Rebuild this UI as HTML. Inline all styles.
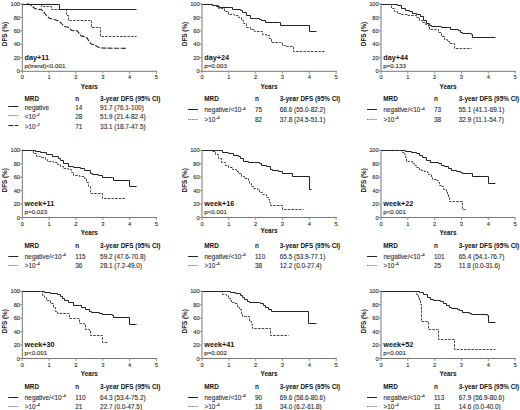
<!DOCTYPE html>
<html><head><meta charset="utf-8"><style>
html,body{margin:0;padding:0;background:#fff;}
svg{display:block;}
text{font-family:"Liberation Sans",sans-serif;}
text{stroke:#2a2a2a;stroke-width:0.1px;}
text[font-weight=bold]{stroke:#111;stroke-width:0px;}
</style></head><body>
<svg width="520" height="410" viewBox="0 0 520 410">
<rect width="520" height="410" fill="#fff"/>
<g>
<path d="M22.3 3.5V71.3H156.95" fill="none" stroke="#777" stroke-width="1"/>
<path d="M19.8 4H22.3M19.8 17.44H22.3M19.8 30.88H22.3M19.8 44.32H22.3M19.8 57.76H22.3M19.8 71.2H22.3M22.3 71.2V73.7M49.13 71.2V73.7M75.96 71.2V73.7M102.79 71.2V73.7M129.62 71.2V73.7M156.45 71.2V73.7" stroke="#777" stroke-width="0.8"/>
<text x="20.1" y="73.3" text-anchor="end" font-size="5.8" fill="#2a2a2a">0</text>
<text x="20.1" y="59.86" text-anchor="end" font-size="5.8" fill="#2a2a2a">20</text>
<text x="20.1" y="46.42" text-anchor="end" font-size="5.8" fill="#2a2a2a">40</text>
<text x="20.1" y="32.98" text-anchor="end" font-size="5.8" fill="#2a2a2a">60</text>
<text x="20.1" y="19.54" text-anchor="end" font-size="5.8" fill="#2a2a2a">80</text>
<text x="20.1" y="6.1" text-anchor="end" font-size="5.8" fill="#2a2a2a">100</text>
<text x="22.3" y="79.2" text-anchor="middle" font-size="5.8" fill="#2a2a2a">0</text>
<text x="49.13" y="79.2" text-anchor="middle" font-size="5.8" fill="#2a2a2a">1</text>
<text x="75.96" y="79.2" text-anchor="middle" font-size="5.8" fill="#2a2a2a">2</text>
<text x="102.79" y="79.2" text-anchor="middle" font-size="5.8" fill="#2a2a2a">3</text>
<text x="129.62" y="79.2" text-anchor="middle" font-size="5.8" fill="#2a2a2a">4</text>
<text x="156.45" y="79.2" text-anchor="middle" font-size="5.8" fill="#2a2a2a">5</text>
<text x="89.4" y="88.7" text-anchor="middle" font-size="6.4" font-weight="bold" fill="#111">Years</text>
<text transform="translate(7.1 34) rotate(-90)" text-anchor="middle" font-size="6.6" textLength="24.3" lengthAdjust="spacingAndGlyphs" font-weight="bold" fill="#111">DFS (%)</text>
<text x="24.6" y="60.1" font-size="7.25" font-weight="bold" fill="#111">day+11</text>
<text x="24.6" y="68.1" font-size="6.2" fill="#1a1a1a">p(trend)&lt;0.001</text>
<polyline points="22.5,4.5 41.5,4.5 41.5,6.5 51.5,6.5 51.5,9.5 65.5,9.5 66.5,9.5 66.5,15.5 68.5,15.5 68.5,20.5 91.5,20.5 91.5,27.5 100.5,27.5 100.5,36.5 136.5,36.5" fill="none" stroke="#444" stroke-width="1" stroke-dasharray="2.5 1.2"/>
<polyline points="27,3.8 30,4.5 32,6.2 34.5,8.2 37.3,9.5 41,9.3 43.5,11.5 46,15 49,18 52,19 56,20 60,21.8 62,24 64,26.5 68.6,27.3 71.7,30.4 77.2,30.8 81.1,35.9 84.2,36.6 87.3,38.2 89.3,42.1 91.25,44 94.4,44.9 97,46.5 100,48 126,48.4" fill="none" stroke="#222" stroke-width="1.1" stroke-dasharray="5 1.5"/>
<polyline points="22.5,4.5 59.5,4.5 59.5,9.5 136.5,9.5" fill="none" stroke="#222" stroke-width="1"/>
<text x="24.5" y="101.2" font-size="6.4" font-weight="bold" fill="#111">MRD</text>
<text x="75.3" y="101.2" font-size="6.4" font-weight="bold" fill="#111">n</text>
<text x="100.1" y="101.2" font-size="6.4" font-weight="bold" fill="#111">3-year DFS (95% CI)</text>
<path d="M8.3 106.5H18.3" stroke="#222" stroke-width="1"/>
<text x="24.8" y="109.8" font-size="6.4" fill="#2a2a2a">negative</text>
<text x="75.3" y="109.8" font-size="6.4" fill="#2a2a2a">14</text>
<text x="100.1" y="109.8" font-size="6.4" fill="#2a2a2a">91.7 (76.1-100)</text>
<path d="M8.3 115.5H18.3" stroke="#555" stroke-width="0.8" stroke-dasharray="1.3 0.8"/>
<text x="24.8" y="119" font-size="6.4" fill="#2a2a2a">&lt;10<tspan font-size="4.4" dx="0.5" dy="-2.7">-2</tspan></text>
<text x="75.3" y="119" font-size="6.4" fill="#2a2a2a">28</text>
<text x="100.1" y="119" font-size="6.4" fill="#2a2a2a">51.9 (21.4-82.4)</text>
<path d="M8.3 125.5H18.3" stroke="#222" stroke-width="1" stroke-dasharray="5 1.5"/>
<text x="24.8" y="128.5" font-size="6.4" fill="#2a2a2a">&gt;10<tspan font-size="4.4" dx="0.5" dy="-2.7">-2</tspan></text>
<text x="75.3" y="128.5" font-size="6.4" fill="#2a2a2a">71</text>
<text x="100.1" y="128.5" font-size="6.4" fill="#2a2a2a">33.1 (18.7-47.5)</text>
</g>
<g>
<path d="M202 3.5V71.3H336.65" fill="none" stroke="#777" stroke-width="1"/>
<path d="M199.5 4H202M199.5 17.44H202M199.5 30.88H202M199.5 44.32H202M199.5 57.76H202M199.5 71.2H202M202 71.2V73.7M228.83 71.2V73.7M255.66 71.2V73.7M282.49 71.2V73.7M309.32 71.2V73.7M336.15 71.2V73.7" stroke="#777" stroke-width="0.8"/>
<text x="199.8" y="73.3" text-anchor="end" font-size="5.8" fill="#2a2a2a">0</text>
<text x="199.8" y="59.86" text-anchor="end" font-size="5.8" fill="#2a2a2a">20</text>
<text x="199.8" y="46.42" text-anchor="end" font-size="5.8" fill="#2a2a2a">40</text>
<text x="199.8" y="32.98" text-anchor="end" font-size="5.8" fill="#2a2a2a">60</text>
<text x="199.8" y="19.54" text-anchor="end" font-size="5.8" fill="#2a2a2a">80</text>
<text x="199.8" y="6.1" text-anchor="end" font-size="5.8" fill="#2a2a2a">100</text>
<text x="202" y="79.2" text-anchor="middle" font-size="5.8" fill="#2a2a2a">0</text>
<text x="228.83" y="79.2" text-anchor="middle" font-size="5.8" fill="#2a2a2a">1</text>
<text x="255.66" y="79.2" text-anchor="middle" font-size="5.8" fill="#2a2a2a">2</text>
<text x="282.49" y="79.2" text-anchor="middle" font-size="5.8" fill="#2a2a2a">3</text>
<text x="309.32" y="79.2" text-anchor="middle" font-size="5.8" fill="#2a2a2a">4</text>
<text x="336.15" y="79.2" text-anchor="middle" font-size="5.8" fill="#2a2a2a">5</text>
<text x="269.1" y="88.7" text-anchor="middle" font-size="6.4" font-weight="bold" fill="#111">Years</text>
<text transform="translate(186.8 34) rotate(-90)" text-anchor="middle" font-size="6.6" textLength="24.3" lengthAdjust="spacingAndGlyphs" font-weight="bold" fill="#111">DFS (%)</text>
<text x="204.3" y="60.1" font-size="7.25" font-weight="bold" fill="#111">day+24</text>
<text x="204.3" y="68.1" font-size="6.2" fill="#1a1a1a">p=0.003</text>
<polyline points="202.5,4.5 206.5,4.5 212.5,4.5 212.5,5.5 218.5,5.5 218.5,8.5 224.5,8.5 224.5,11.5 228.5,11.5 228.5,14.5 234.5,14.5 234.5,15.5 238.5,15.5 238.5,17.5 241.5,17.5 241.5,20.5 243.5,20.5 243.5,23.5 246.5,23.5 246.5,27.5 250.5,27.5 250.5,29.5 254.5,29.5 254.5,31.5 259.5,31.5 262.5,31.5 262.5,34.5 266.5,34.5 266.5,35.5 269.5,35.5 269.5,38.5 271.5,38.5 271.5,42.5 280.5,42.5 282.5,42.5 282.5,45.5 285.5,45.5 285.5,46.5 292.5,46.5 293.5,46.5 293.5,51.5 325.5,51.5" fill="none" stroke="#444" stroke-width="1" stroke-dasharray="2.5 1.2"/>
<polyline points="202.5,4.5 207.5,4.5 212.5,4.5 212.5,5.5 216.5,5.5 216.5,6.5 219.5,6.5 219.5,7.5 230.5,7.5 232.5,7.5 232.5,9.5 240.5,9.5 240.5,10.5 242.5,10.5 242.5,12.5 246.5,12.5 246.5,15.5 250.5,15.5 250.5,18.5 254.5,18.5 259.5,18.5 259.5,19.5 261.5,19.5 261.5,20.5 265.5,20.5 265.5,22.5 279.5,22.5 280.5,22.5 280.5,25.5 309.5,25.5 309.5,31.5 316.5,31.5" fill="none" stroke="#222" stroke-width="1"/>
<text x="204.2" y="101.2" font-size="6.4" font-weight="bold" fill="#111">MRD</text>
<text x="255" y="101.2" font-size="6.4" font-weight="bold" fill="#111">n</text>
<text x="279.8" y="101.2" font-size="6.4" font-weight="bold" fill="#111">3-year DFS (95% CI)</text>
<path d="M188 109.5H198" stroke="#222" stroke-width="1"/>
<text x="204.5" y="112.4" font-size="6.4" fill="#2a2a2a">negative/&lt;10<tspan font-size="4.4" dx="0.5" dy="-2.7">-4</tspan></text>
<text x="255" y="112.4" font-size="6.4" fill="#2a2a2a">75</text>
<text x="279.8" y="112.4" font-size="6.4" fill="#2a2a2a">68.6 (55.0-82.2)</text>
<path d="M188 119.5H198" stroke="#555" stroke-width="0.8" stroke-dasharray="1.3 0.8"/>
<text x="204.5" y="121.8" font-size="6.4" fill="#2a2a2a">&gt;10<tspan font-size="4.4" dx="0.5" dy="-2.7">-4</tspan></text>
<text x="255" y="121.8" font-size="6.4" fill="#2a2a2a">82</text>
<text x="279.8" y="121.8" font-size="6.4" fill="#2a2a2a">37.8 (24.5-51.1)</text>
</g>
<g>
<path d="M381 3.5V71.3H515.65" fill="none" stroke="#777" stroke-width="1"/>
<path d="M378.5 4H381M378.5 17.44H381M378.5 30.88H381M378.5 44.32H381M378.5 57.76H381M378.5 71.2H381M381 71.2V73.7M407.83 71.2V73.7M434.66 71.2V73.7M461.49 71.2V73.7M488.32 71.2V73.7M515.15 71.2V73.7" stroke="#777" stroke-width="0.8"/>
<text x="378.8" y="73.3" text-anchor="end" font-size="5.8" fill="#2a2a2a">0</text>
<text x="378.8" y="59.86" text-anchor="end" font-size="5.8" fill="#2a2a2a">20</text>
<text x="378.8" y="46.42" text-anchor="end" font-size="5.8" fill="#2a2a2a">40</text>
<text x="378.8" y="32.98" text-anchor="end" font-size="5.8" fill="#2a2a2a">60</text>
<text x="378.8" y="19.54" text-anchor="end" font-size="5.8" fill="#2a2a2a">80</text>
<text x="378.8" y="6.1" text-anchor="end" font-size="5.8" fill="#2a2a2a">100</text>
<text x="381" y="79.2" text-anchor="middle" font-size="5.8" fill="#2a2a2a">0</text>
<text x="407.83" y="79.2" text-anchor="middle" font-size="5.8" fill="#2a2a2a">1</text>
<text x="434.66" y="79.2" text-anchor="middle" font-size="5.8" fill="#2a2a2a">2</text>
<text x="461.49" y="79.2" text-anchor="middle" font-size="5.8" fill="#2a2a2a">3</text>
<text x="488.32" y="79.2" text-anchor="middle" font-size="5.8" fill="#2a2a2a">4</text>
<text x="515.15" y="79.2" text-anchor="middle" font-size="5.8" fill="#2a2a2a">5</text>
<text x="448.1" y="88.7" text-anchor="middle" font-size="6.4" font-weight="bold" fill="#111">Years</text>
<text transform="translate(365.8 34) rotate(-90)" text-anchor="middle" font-size="6.6" textLength="24.3" lengthAdjust="spacingAndGlyphs" font-weight="bold" fill="#111">DFS (%)</text>
<text x="383.3" y="60.1" font-size="7.25" font-weight="bold" fill="#111">day+44</text>
<text x="383.3" y="68.1" font-size="6.2" fill="#1a1a1a">p=0.133</text>
<polyline points="381.5,4.5 388.5,4.5 389.5,4.5 391.5,4.5 391.5,8.5 394.5,8.5 394.5,11.5 397.5,11.5 397.5,13.5 401.5,13.5 401.5,14.5 407.5,14.5 407.5,15.5 414.5,15.5 416.5,15.5 416.5,17.5 419.5,17.5 419.5,20.5 422.5,20.5 422.5,22.5 425.5,22.5 425.5,24.5 428.5,24.5 428.5,26.5 429.5,26.5 429.5,29.5 436.5,29.5 438.5,29.5 438.5,32.5 441.5,32.5 441.5,36.5 444.5,36.5 444.5,39.5 447.5,39.5 447.5,41.5 449.5,41.5 449.5,43.5 453.5,43.5 454.5,43.5 454.5,48.5 471.5,48.5" fill="none" stroke="#444" stroke-width="1" stroke-dasharray="2.5 1.2"/>
<polyline points="381.5,4.5 389.5,4.5 393.5,4.5 397.5,4.5 397.5,5.5 401.5,5.5 401.5,8.5 405.5,8.5 405.5,10.5 409.5,10.5 409.5,11.5 412.5,11.5 412.5,13.5 416.5,13.5 416.5,14.5 420.5,14.5 420.5,16.5 423.5,16.5 423.5,20.5 426.5,20.5 426.5,23.5 429.5,23.5 429.5,25.5 431.5,25.5 431.5,26.5 440.5,26.5 441.5,26.5 441.5,27.5 448.5,27.5 450.5,27.5 450.5,29.5 458.5,29.5 458.5,30.5 460.5,30.5 460.5,32.5 462.5,32.5 462.5,33.5 470.5,33.5 471.5,33.5 471.5,34.5 472.5,34.5 472.5,37.5 495.5,37.5" fill="none" stroke="#222" stroke-width="1"/>
<text x="383.2" y="101.2" font-size="6.4" font-weight="bold" fill="#111">MRD</text>
<text x="434" y="101.2" font-size="6.4" font-weight="bold" fill="#111">n</text>
<text x="458.8" y="101.2" font-size="6.4" font-weight="bold" fill="#111">3-year DFS (95% CI)</text>
<path d="M367 109.5H377" stroke="#222" stroke-width="1"/>
<text x="383.5" y="112.4" font-size="6.4" fill="#2a2a2a">negative/&lt;10<tspan font-size="4.4" dx="0.5" dy="-2.7">-4</tspan></text>
<text x="434" y="112.4" font-size="6.4" fill="#2a2a2a">73</text>
<text x="458.8" y="112.4" font-size="6.4" fill="#2a2a2a">55.1 (41.1-69.1)</text>
<path d="M367 119.5H377" stroke="#555" stroke-width="0.8" stroke-dasharray="1.3 0.8"/>
<text x="383.5" y="121.8" font-size="6.4" fill="#2a2a2a">&gt;10<tspan font-size="4.4" dx="0.5" dy="-2.7">-4</tspan></text>
<text x="434" y="121.8" font-size="6.4" fill="#2a2a2a">38</text>
<text x="458.8" y="121.8" font-size="6.4" fill="#2a2a2a">32.9 (11.1-54.7)</text>
</g>
<g>
<path d="M22.3 149.8V217.5H156.95" fill="none" stroke="#777" stroke-width="1"/>
<path d="M19.8 150.3H22.3M19.8 163.74H22.3M19.8 177.18H22.3M19.8 190.62H22.3M19.8 204.06H22.3M19.8 217.5H22.3M22.3 217.5V220M49.13 217.5V220M75.96 217.5V220M102.79 217.5V220M129.62 217.5V220M156.45 217.5V220" stroke="#777" stroke-width="0.8"/>
<text x="20.1" y="219.6" text-anchor="end" font-size="5.8" fill="#2a2a2a">0</text>
<text x="20.1" y="206.16" text-anchor="end" font-size="5.8" fill="#2a2a2a">20</text>
<text x="20.1" y="192.72" text-anchor="end" font-size="5.8" fill="#2a2a2a">40</text>
<text x="20.1" y="179.28" text-anchor="end" font-size="5.8" fill="#2a2a2a">60</text>
<text x="20.1" y="165.84" text-anchor="end" font-size="5.8" fill="#2a2a2a">80</text>
<text x="20.1" y="152.4" text-anchor="end" font-size="5.8" fill="#2a2a2a">100</text>
<text x="22.3" y="225.5" text-anchor="middle" font-size="5.8" fill="#2a2a2a">0</text>
<text x="49.13" y="225.5" text-anchor="middle" font-size="5.8" fill="#2a2a2a">1</text>
<text x="75.96" y="225.5" text-anchor="middle" font-size="5.8" fill="#2a2a2a">2</text>
<text x="102.79" y="225.5" text-anchor="middle" font-size="5.8" fill="#2a2a2a">3</text>
<text x="129.62" y="225.5" text-anchor="middle" font-size="5.8" fill="#2a2a2a">4</text>
<text x="156.45" y="225.5" text-anchor="middle" font-size="5.8" fill="#2a2a2a">5</text>
<text x="89.4" y="235" text-anchor="middle" font-size="6.4" font-weight="bold" fill="#111">Years</text>
<text transform="translate(7.1 180.3) rotate(-90)" text-anchor="middle" font-size="6.6" textLength="24.3" lengthAdjust="spacingAndGlyphs" font-weight="bold" fill="#111">DFS (%)</text>
<text x="24.6" y="206.4" font-size="7.25" font-weight="bold" fill="#111">week+11</text>
<text x="24.6" y="214.4" font-size="6.2" fill="#1a1a1a">p=0.023</text>
<polyline points="22.5,150.5 32.5,150.5 33.5,150.5 33.5,153.5 36.5,153.5 36.5,156.5 40.5,156.5 40.5,157.5 45.5,157.5 45.5,159.5 47.5,159.5 47.5,161.5 53.5,161.5 53.5,162.5 57.5,162.5 57.5,164.5 60.5,164.5 60.5,166.5 63.5,166.5 63.5,168.5 68.5,168.5 68.5,169.5 71.5,169.5 71.5,172.5 73.5,172.5 73.5,175.5 79.5,175.5 79.5,176.5 84.5,176.5 84.5,178.5 86.5,178.5 86.5,182.5 88.5,182.5 88.5,186.5 90.5,186.5 90.5,190.5 90.5,193.5 102.5,193.5 102.5,198.5 126.5,198.5" fill="none" stroke="#444" stroke-width="1" stroke-dasharray="2.5 1.2"/>
<polyline points="22.5,150.5 32.5,150.5 35.5,150.5 35.5,151.5 40.5,151.5 40.5,152.5 46.5,152.5 46.5,154.5 52.5,154.5 52.5,156.5 58.5,156.5 58.5,158.5 60.5,158.5 60.5,160.5 63.5,160.5 63.5,163.5 68.5,163.5 68.5,166.5 73.5,166.5 73.5,167.5 80.5,167.5 80.5,168.5 84.5,168.5 84.5,170.5 90.5,170.5 90.5,173.5 92.5,173.5 92.5,174.5 98.5,174.5 98.5,175.5 102.5,175.5 102.5,177.5 112.5,177.5 113.5,177.5 113.5,180.5 129.5,180.5 129.5,186.5 136.5,186.5" fill="none" stroke="#222" stroke-width="1"/>
<text x="24.5" y="247.5" font-size="6.4" font-weight="bold" fill="#111">MRD</text>
<text x="75.3" y="247.5" font-size="6.4" font-weight="bold" fill="#111">n</text>
<text x="100.1" y="247.5" font-size="6.4" font-weight="bold" fill="#111">3-year DFS (95% CI)</text>
<path d="M8.3 256.5H18.3" stroke="#222" stroke-width="1"/>
<text x="24.8" y="258.7" font-size="6.4" fill="#2a2a2a">negative/&lt;10<tspan font-size="4.4" dx="0.5" dy="-2.7">-4</tspan></text>
<text x="75.3" y="258.7" font-size="6.4" fill="#2a2a2a">115</text>
<text x="100.1" y="258.7" font-size="6.4" fill="#2a2a2a">59.2 (47.6-70.8)</text>
<path d="M8.3 265.5H18.3" stroke="#555" stroke-width="0.8" stroke-dasharray="1.3 0.8"/>
<text x="24.8" y="268.1" font-size="6.4" fill="#2a2a2a">&gt;10<tspan font-size="4.4" dx="0.5" dy="-2.7">-4</tspan></text>
<text x="75.3" y="268.1" font-size="6.4" fill="#2a2a2a">36</text>
<text x="100.1" y="268.1" font-size="6.4" fill="#2a2a2a">28.1 (7.2-49.0)</text>
</g>
<g>
<path d="M202 149.8V217.5H336.65" fill="none" stroke="#777" stroke-width="1"/>
<path d="M199.5 150.3H202M199.5 163.74H202M199.5 177.18H202M199.5 190.62H202M199.5 204.06H202M199.5 217.5H202M202 217.5V220M228.83 217.5V220M255.66 217.5V220M282.49 217.5V220M309.32 217.5V220M336.15 217.5V220" stroke="#777" stroke-width="0.8"/>
<text x="199.8" y="219.6" text-anchor="end" font-size="5.8" fill="#2a2a2a">0</text>
<text x="199.8" y="206.16" text-anchor="end" font-size="5.8" fill="#2a2a2a">20</text>
<text x="199.8" y="192.72" text-anchor="end" font-size="5.8" fill="#2a2a2a">40</text>
<text x="199.8" y="179.28" text-anchor="end" font-size="5.8" fill="#2a2a2a">60</text>
<text x="199.8" y="165.84" text-anchor="end" font-size="5.8" fill="#2a2a2a">80</text>
<text x="199.8" y="152.4" text-anchor="end" font-size="5.8" fill="#2a2a2a">100</text>
<text x="202" y="225.5" text-anchor="middle" font-size="5.8" fill="#2a2a2a">0</text>
<text x="228.83" y="225.5" text-anchor="middle" font-size="5.8" fill="#2a2a2a">1</text>
<text x="255.66" y="225.5" text-anchor="middle" font-size="5.8" fill="#2a2a2a">2</text>
<text x="282.49" y="225.5" text-anchor="middle" font-size="5.8" fill="#2a2a2a">3</text>
<text x="309.32" y="225.5" text-anchor="middle" font-size="5.8" fill="#2a2a2a">4</text>
<text x="336.15" y="225.5" text-anchor="middle" font-size="5.8" fill="#2a2a2a">5</text>
<text x="269.1" y="232.7" text-anchor="middle" font-size="6.4" font-weight="bold" fill="#111">Years</text>
<text transform="translate(186.8 180.3) rotate(-90)" text-anchor="middle" font-size="6.6" textLength="24.3" lengthAdjust="spacingAndGlyphs" font-weight="bold" fill="#111">DFS (%)</text>
<text x="204.3" y="206.4" font-size="7.25" font-weight="bold" fill="#111">week+16</text>
<text x="204.3" y="214.4" font-size="6.2" fill="#1a1a1a">p&lt;0.001</text>
<polyline points="202.5,150.5 208.5,150.5 212.5,150.5 212.5,151.5 215.5,151.5 215.5,154.5 218.5,154.5 218.5,158.5 221.5,158.5 221.5,162.5 225.5,162.5 225.5,165.5 228.5,165.5 228.5,167.5 232.5,167.5 232.5,169.5 236.5,169.5 236.5,171.5 238.5,171.5 238.5,173.5 241.5,173.5 241.5,176.5 244.5,176.5 244.5,178.5 248.5,178.5 248.5,180.5 249.5,180.5 249.5,183.5 251.5,183.5 251.5,186.5 253.5,186.5 253.5,188.5 257.5,188.5 257.5,189.5 259.5,189.5 259.5,192.5 262.5,192.5 262.5,194.5 264.5,194.5 266.5,194.5 266.5,197.5 268.5,197.5 268.5,199.5 269.5,199.5 269.5,202.5 270.5,202.5 270.5,205.5 282.5,205.5 282.5,209.5 303.5,209.5" fill="none" stroke="#444" stroke-width="1" stroke-dasharray="2.5 1.2"/>
<polyline points="202.5,150.5 214.5,150.5 218.5,150.5 222.5,150.5 222.5,152.5 228.5,152.5 228.5,153.5 233.5,153.5 233.5,155.5 238.5,155.5 238.5,156.5 240.5,156.5 240.5,158.5 243.5,158.5 243.5,161.5 248.5,161.5 248.5,162.5 254.5,162.5 259.5,162.5 259.5,163.5 261.5,163.5 261.5,165.5 266.5,165.5 266.5,166.5 270.5,166.5 270.5,169.5 272.5,169.5 272.5,170.5 278.5,170.5 278.5,171.5 282.5,171.5 282.5,173.5 292.5,173.5 292.5,176.5 309.5,176.5 309.5,189.5 311.5,189.5" fill="none" stroke="#222" stroke-width="1"/>
<text x="204.2" y="247.5" font-size="6.4" font-weight="bold" fill="#111">MRD</text>
<text x="255" y="247.5" font-size="6.4" font-weight="bold" fill="#111">n</text>
<text x="279.8" y="247.5" font-size="6.4" font-weight="bold" fill="#111">3-year DFS (95% CI)</text>
<path d="M188 256.5H198" stroke="#222" stroke-width="1"/>
<text x="204.5" y="258.7" font-size="6.4" fill="#2a2a2a">negative/&lt;10<tspan font-size="4.4" dx="0.5" dy="-2.7">-4</tspan></text>
<text x="255" y="258.7" font-size="6.4" fill="#2a2a2a">110</text>
<text x="279.8" y="258.7" font-size="6.4" fill="#2a2a2a">65.5 (53.9-77.1)</text>
<path d="M188 265.5H198" stroke="#555" stroke-width="0.8" stroke-dasharray="1.3 0.8"/>
<text x="204.5" y="268.1" font-size="6.4" fill="#2a2a2a">&gt;10<tspan font-size="4.4" dx="0.5" dy="-2.7">-4</tspan></text>
<text x="255" y="268.1" font-size="6.4" fill="#2a2a2a">38</text>
<text x="279.8" y="268.1" font-size="6.4" fill="#2a2a2a">12.2 (0.0-27.4)</text>
</g>
<g>
<path d="M381 149.8V217.5H515.65" fill="none" stroke="#777" stroke-width="1"/>
<path d="M378.5 150.3H381M378.5 163.74H381M378.5 177.18H381M378.5 190.62H381M378.5 204.06H381M378.5 217.5H381M381 217.5V220M407.83 217.5V220M434.66 217.5V220M461.49 217.5V220M488.32 217.5V220M515.15 217.5V220" stroke="#777" stroke-width="0.8"/>
<text x="378.8" y="219.6" text-anchor="end" font-size="5.8" fill="#2a2a2a">0</text>
<text x="378.8" y="206.16" text-anchor="end" font-size="5.8" fill="#2a2a2a">20</text>
<text x="378.8" y="192.72" text-anchor="end" font-size="5.8" fill="#2a2a2a">40</text>
<text x="378.8" y="179.28" text-anchor="end" font-size="5.8" fill="#2a2a2a">60</text>
<text x="378.8" y="165.84" text-anchor="end" font-size="5.8" fill="#2a2a2a">80</text>
<text x="378.8" y="152.4" text-anchor="end" font-size="5.8" fill="#2a2a2a">100</text>
<text x="381" y="225.5" text-anchor="middle" font-size="5.8" fill="#2a2a2a">0</text>
<text x="407.83" y="225.5" text-anchor="middle" font-size="5.8" fill="#2a2a2a">1</text>
<text x="434.66" y="225.5" text-anchor="middle" font-size="5.8" fill="#2a2a2a">2</text>
<text x="461.49" y="225.5" text-anchor="middle" font-size="5.8" fill="#2a2a2a">3</text>
<text x="488.32" y="225.5" text-anchor="middle" font-size="5.8" fill="#2a2a2a">4</text>
<text x="515.15" y="225.5" text-anchor="middle" font-size="5.8" fill="#2a2a2a">5</text>
<text x="448.1" y="235" text-anchor="middle" font-size="6.4" font-weight="bold" fill="#111">Years</text>
<text transform="translate(365.8 180.3) rotate(-90)" text-anchor="middle" font-size="6.6" textLength="24.3" lengthAdjust="spacingAndGlyphs" font-weight="bold" fill="#111">DFS (%)</text>
<text x="383.3" y="206.4" font-size="7.25" font-weight="bold" fill="#111">week+22</text>
<text x="383.3" y="214.4" font-size="6.2" fill="#1a1a1a">p&lt;0.001</text>
<polyline points="381.5,150.5 399.5,150.5 402.5,150.5 402.5,152.5 404.5,152.5 404.5,154.5 405.5,154.5 405.5,157.5 406.5,157.5 406.5,161.5 410.5,161.5 412.5,161.5 412.5,163.5 414.5,163.5 414.5,165.5 416.5,165.5 416.5,167.5 419.5,167.5 419.5,169.5 421.5,169.5 421.5,170.5 424.5,170.5 424.5,171.5 427.5,171.5 427.5,172.5 428.5,172.5 428.5,174.5 431.5,174.5 431.5,177.5 432.5,177.5 432.5,179.5 436.5,179.5 436.5,180.5 438.5,180.5 438.5,182.5 439.5,182.5 439.5,185.5 441.5,185.5 441.5,186.5 443.5,186.5 443.5,189.5 446.5,189.5 446.5,191.5 447.5,191.5 447.5,194.5 448.5,194.5 448.5,197.5 449.5,197.5 449.5,201.5 462.5,201.5 462.5,209.5 465.5,209.5" fill="none" stroke="#444" stroke-width="1" stroke-dasharray="2.5 1.2"/>
<polyline points="381.5,150.5 395.5,150.5 399.5,150.5 405.5,150.5 405.5,151.5 411.5,151.5 411.5,152.5 416.5,152.5 416.5,153.5 419.5,153.5 419.5,155.5 422.5,155.5 422.5,157.5 426.5,157.5 426.5,160.5 430.5,160.5 430.5,162.5 438.5,162.5 438.5,163.5 441.5,163.5 441.5,165.5 444.5,165.5 444.5,166.5 448.5,166.5 448.5,168.5 451.5,168.5 451.5,170.5 456.5,170.5 456.5,171.5 460.5,171.5 460.5,172.5 462.5,172.5 462.5,173.5 470.5,173.5 472.5,173.5 472.5,176.5 488.5,176.5 488.5,183.5 495.5,183.5" fill="none" stroke="#222" stroke-width="1"/>
<text x="383.2" y="247.5" font-size="6.4" font-weight="bold" fill="#111">MRD</text>
<text x="434" y="247.5" font-size="6.4" font-weight="bold" fill="#111">n</text>
<text x="458.8" y="247.5" font-size="6.4" font-weight="bold" fill="#111">3-year DFS (95% CI)</text>
<path d="M367 256.5H377" stroke="#222" stroke-width="1"/>
<text x="383.5" y="258.7" font-size="6.4" fill="#2a2a2a">negative/&lt;10<tspan font-size="4.4" dx="0.5" dy="-2.7">-4</tspan></text>
<text x="434" y="258.7" font-size="6.4" fill="#2a2a2a">101</text>
<text x="458.8" y="258.7" font-size="6.4" fill="#2a2a2a">65.4 (54.1-76.7)</text>
<path d="M367 265.5H377" stroke="#555" stroke-width="0.8" stroke-dasharray="1.3 0.8"/>
<text x="383.5" y="268.1" font-size="6.4" fill="#2a2a2a">&gt;10<tspan font-size="4.4" dx="0.5" dy="-2.7">-4</tspan></text>
<text x="434" y="268.1" font-size="6.4" fill="#2a2a2a">25</text>
<text x="458.8" y="268.1" font-size="6.4" fill="#2a2a2a">11.8 (0.0-31.6)</text>
</g>
<g>
<path d="M22.3 290.8V358.5H156.95" fill="none" stroke="#777" stroke-width="1"/>
<path d="M19.8 291.3H22.3M19.8 304.74H22.3M19.8 318.18H22.3M19.8 331.62H22.3M19.8 345.06H22.3M19.8 358.5H22.3M22.3 358.5V361M49.13 358.5V361M75.96 358.5V361M102.79 358.5V361M129.62 358.5V361M156.45 358.5V361" stroke="#777" stroke-width="0.8"/>
<text x="20.1" y="360.6" text-anchor="end" font-size="5.8" fill="#2a2a2a">0</text>
<text x="20.1" y="347.16" text-anchor="end" font-size="5.8" fill="#2a2a2a">20</text>
<text x="20.1" y="333.72" text-anchor="end" font-size="5.8" fill="#2a2a2a">40</text>
<text x="20.1" y="320.28" text-anchor="end" font-size="5.8" fill="#2a2a2a">60</text>
<text x="20.1" y="306.84" text-anchor="end" font-size="5.8" fill="#2a2a2a">80</text>
<text x="20.1" y="293.4" text-anchor="end" font-size="5.8" fill="#2a2a2a">100</text>
<text x="22.3" y="366.5" text-anchor="middle" font-size="5.8" fill="#2a2a2a">0</text>
<text x="49.13" y="366.5" text-anchor="middle" font-size="5.8" fill="#2a2a2a">1</text>
<text x="75.96" y="366.5" text-anchor="middle" font-size="5.8" fill="#2a2a2a">2</text>
<text x="102.79" y="366.5" text-anchor="middle" font-size="5.8" fill="#2a2a2a">3</text>
<text x="129.62" y="366.5" text-anchor="middle" font-size="5.8" fill="#2a2a2a">4</text>
<text x="156.45" y="366.5" text-anchor="middle" font-size="5.8" fill="#2a2a2a">5</text>
<text x="89.4" y="376" text-anchor="middle" font-size="6.4" font-weight="bold" fill="#111">Years</text>
<text transform="translate(7.1 321.3) rotate(-90)" text-anchor="middle" font-size="6.6" textLength="24.3" lengthAdjust="spacingAndGlyphs" font-weight="bold" fill="#111">DFS (%)</text>
<text x="24.6" y="347.4" font-size="7.25" font-weight="bold" fill="#111">week+30</text>
<text x="24.6" y="355.4" font-size="6.2" fill="#1a1a1a">p&lt;0.001</text>
<polyline points="22.5,291.5 40.5,291.5 42.5,291.5 42.5,295.5 44.5,295.5 44.5,297.5 46.5,297.5 46.5,300.5 50.5,300.5 50.5,303.5 53.5,303.5 53.5,307.5 55.5,307.5 55.5,311.5 57.5,311.5 57.5,313.5 68.5,313.5 69.5,313.5 69.5,318.5 78.5,318.5 79.5,318.5 79.5,323.5 84.5,323.5 84.5,324.5 85.5,324.5 85.5,329.5 89.5,329.5 89.5,330.5 90.5,330.5 90.5,335.5 102.5,335.5 102.5,342.5 108.5,342.5" fill="none" stroke="#444" stroke-width="1" stroke-dasharray="2.5 1.2"/>
<polyline points="22.5,291.5 40.5,291.5 44.5,291.5 44.5,292.5 50.5,292.5 50.5,293.5 57.5,293.5 57.5,294.5 60.5,294.5 60.5,296.5 62.5,296.5 62.5,298.5 64.5,298.5 64.5,300.5 68.5,300.5 68.5,302.5 73.5,302.5 73.5,305.5 79.5,305.5 81.5,305.5 81.5,307.5 85.5,307.5 85.5,309.5 89.5,309.5 89.5,311.5 91.5,311.5 91.5,312.5 99.5,312.5 99.5,313.5 102.5,313.5 102.5,314.5 112.5,314.5 112.5,315.5 113.5,315.5 113.5,317.5 129.5,317.5 129.5,324.5 136.5,324.5" fill="none" stroke="#222" stroke-width="1"/>
<text x="24.5" y="388.5" font-size="6.4" font-weight="bold" fill="#111">MRD</text>
<text x="75.3" y="388.5" font-size="6.4" font-weight="bold" fill="#111">n</text>
<text x="100.1" y="388.5" font-size="6.4" font-weight="bold" fill="#111">3-year DFS (95% CI)</text>
<path d="M8.3 397.5H18.3" stroke="#222" stroke-width="1"/>
<text x="24.8" y="399.7" font-size="6.4" fill="#2a2a2a">negative/&lt;10<tspan font-size="4.4" dx="0.5" dy="-2.7">-4</tspan></text>
<text x="75.3" y="399.7" font-size="6.4" fill="#2a2a2a">110</text>
<text x="100.1" y="399.7" font-size="6.4" fill="#2a2a2a">64.3 (53.4-75.2)</text>
<path d="M8.3 406.5H18.3" stroke="#555" stroke-width="0.8" stroke-dasharray="1.3 0.8"/>
<text x="24.8" y="409.1" font-size="6.4" fill="#2a2a2a">&gt;10<tspan font-size="4.4" dx="0.5" dy="-2.7">-4</tspan></text>
<text x="75.3" y="409.1" font-size="6.4" fill="#2a2a2a">21</text>
<text x="100.1" y="409.1" font-size="6.4" fill="#2a2a2a">22.7 (0.0-47.5)</text>
</g>
<g>
<path d="M202 290.8V358.5H336.65" fill="none" stroke="#777" stroke-width="1"/>
<path d="M199.5 291.3H202M199.5 304.74H202M199.5 318.18H202M199.5 331.62H202M199.5 345.06H202M199.5 358.5H202M202 358.5V361M228.83 358.5V361M255.66 358.5V361M282.49 358.5V361M309.32 358.5V361M336.15 358.5V361" stroke="#777" stroke-width="0.8"/>
<text x="199.8" y="360.6" text-anchor="end" font-size="5.8" fill="#2a2a2a">0</text>
<text x="199.8" y="347.16" text-anchor="end" font-size="5.8" fill="#2a2a2a">20</text>
<text x="199.8" y="333.72" text-anchor="end" font-size="5.8" fill="#2a2a2a">40</text>
<text x="199.8" y="320.28" text-anchor="end" font-size="5.8" fill="#2a2a2a">60</text>
<text x="199.8" y="306.84" text-anchor="end" font-size="5.8" fill="#2a2a2a">80</text>
<text x="199.8" y="293.4" text-anchor="end" font-size="5.8" fill="#2a2a2a">100</text>
<text x="202" y="366.5" text-anchor="middle" font-size="5.8" fill="#2a2a2a">0</text>
<text x="228.83" y="366.5" text-anchor="middle" font-size="5.8" fill="#2a2a2a">1</text>
<text x="255.66" y="366.5" text-anchor="middle" font-size="5.8" fill="#2a2a2a">2</text>
<text x="282.49" y="366.5" text-anchor="middle" font-size="5.8" fill="#2a2a2a">3</text>
<text x="309.32" y="366.5" text-anchor="middle" font-size="5.8" fill="#2a2a2a">4</text>
<text x="336.15" y="366.5" text-anchor="middle" font-size="5.8" fill="#2a2a2a">5</text>
<text x="269.1" y="376" text-anchor="middle" font-size="6.4" font-weight="bold" fill="#111">Years</text>
<text transform="translate(186.8 321.3) rotate(-90)" text-anchor="middle" font-size="6.6" textLength="24.3" lengthAdjust="spacingAndGlyphs" font-weight="bold" fill="#111">DFS (%)</text>
<text x="204.3" y="347.4" font-size="7.25" font-weight="bold" fill="#111">week+41</text>
<text x="204.3" y="355.4" font-size="6.2" fill="#1a1a1a">p=0.002</text>
<polyline points="202.5,291.5 221.5,291.5 222.5,291.5 222.5,294.5 226.5,294.5 226.5,295.5 228.5,295.5 228.5,298.5 230.5,298.5 230.5,300.5 231.5,300.5 231.5,302.5 234.5,302.5 234.5,303.5 237.5,303.5 237.5,307.5 239.5,307.5 239.5,309.5 241.5,309.5 241.5,313.5 242.5,313.5 242.5,316.5 247.5,316.5 249.5,316.5 249.5,321.5 251.5,321.5 251.5,324.5 252.5,324.5 252.5,328.5 270.5,328.5 270.5,335.5 288.5,335.5" fill="none" stroke="#444" stroke-width="1" stroke-dasharray="2.5 1.2"/>
<polyline points="202.5,291.5 226.5,291.5 230.5,291.5 230.5,292.5 235.5,292.5 235.5,293.5 240.5,293.5 240.5,295.5 242.5,295.5 242.5,297.5 244.5,297.5 244.5,299.5 247.5,299.5 247.5,301.5 249.5,301.5 249.5,302.5 259.5,302.5 260.5,302.5 260.5,303.5 263.5,303.5 263.5,305.5 265.5,305.5 265.5,307.5 268.5,307.5 268.5,309.5 271.5,309.5 271.5,311.5 308.5,311.5 308.5,323.5 316.5,323.5" fill="none" stroke="#222" stroke-width="1"/>
<text x="204.2" y="388.5" font-size="6.4" font-weight="bold" fill="#111">MRD</text>
<text x="255" y="388.5" font-size="6.4" font-weight="bold" fill="#111">n</text>
<text x="279.8" y="388.5" font-size="6.4" font-weight="bold" fill="#111">3-year DFS (95% CI)</text>
<path d="M188 397.5H198" stroke="#222" stroke-width="1"/>
<text x="204.5" y="399.7" font-size="6.4" fill="#2a2a2a">negative/&lt;10<tspan font-size="4.4" dx="0.5" dy="-2.7">-4</tspan></text>
<text x="255" y="399.7" font-size="6.4" fill="#2a2a2a">90</text>
<text x="279.8" y="399.7" font-size="6.4" fill="#2a2a2a">69.6 (58.6-80.6)</text>
<path d="M188 406.5H198" stroke="#555" stroke-width="0.8" stroke-dasharray="1.3 0.8"/>
<text x="204.5" y="409.1" font-size="6.4" fill="#2a2a2a">&gt;10<tspan font-size="4.4" dx="0.5" dy="-2.7">-4</tspan></text>
<text x="255" y="409.1" font-size="6.4" fill="#2a2a2a">18</text>
<text x="279.8" y="409.1" font-size="6.4" fill="#2a2a2a">34.0 (6.2-61.8)</text>
</g>
<g>
<path d="M381 290.8V358.5H515.65" fill="none" stroke="#777" stroke-width="1"/>
<path d="M378.5 291.3H381M378.5 304.74H381M378.5 318.18H381M378.5 331.62H381M378.5 345.06H381M378.5 358.5H381M381 358.5V361M407.83 358.5V361M434.66 358.5V361M461.49 358.5V361M488.32 358.5V361M515.15 358.5V361" stroke="#777" stroke-width="0.8"/>
<text x="378.8" y="360.6" text-anchor="end" font-size="5.8" fill="#2a2a2a">0</text>
<text x="378.8" y="347.16" text-anchor="end" font-size="5.8" fill="#2a2a2a">20</text>
<text x="378.8" y="333.72" text-anchor="end" font-size="5.8" fill="#2a2a2a">40</text>
<text x="378.8" y="320.28" text-anchor="end" font-size="5.8" fill="#2a2a2a">60</text>
<text x="378.8" y="306.84" text-anchor="end" font-size="5.8" fill="#2a2a2a">80</text>
<text x="378.8" y="293.4" text-anchor="end" font-size="5.8" fill="#2a2a2a">100</text>
<text x="381" y="366.5" text-anchor="middle" font-size="5.8" fill="#2a2a2a">0</text>
<text x="407.83" y="366.5" text-anchor="middle" font-size="5.8" fill="#2a2a2a">1</text>
<text x="434.66" y="366.5" text-anchor="middle" font-size="5.8" fill="#2a2a2a">2</text>
<text x="461.49" y="366.5" text-anchor="middle" font-size="5.8" fill="#2a2a2a">3</text>
<text x="488.32" y="366.5" text-anchor="middle" font-size="5.8" fill="#2a2a2a">4</text>
<text x="515.15" y="366.5" text-anchor="middle" font-size="5.8" fill="#2a2a2a">5</text>
<text x="448.1" y="376" text-anchor="middle" font-size="6.4" font-weight="bold" fill="#111">Years</text>
<text transform="translate(365.8 321.3) rotate(-90)" text-anchor="middle" font-size="6.6" textLength="24.3" lengthAdjust="spacingAndGlyphs" font-weight="bold" fill="#111">DFS (%)</text>
<text x="383.3" y="347.4" font-size="7.25" font-weight="bold" fill="#111">week+52</text>
<text x="383.3" y="355.4" font-size="6.2" fill="#1a1a1a">p&lt;0.001</text>
<polyline points="381.5,291.5 415.5,291.5 416.5,291.5 416.5,294.5 418.5,294.5 418.5,297.5 419.5,297.5 419.5,300.5 420.5,300.5 420.5,304.5 421.5,304.5 421.5,312.5 421.5,321.5 428.5,321.5 428.5,329.5 437.5,329.5 438.5,329.5 438.5,339.5 454.5,339.5 454.5,349.5 495.5,349.5" fill="none" stroke="#444" stroke-width="1" stroke-dasharray="2.5 1.2"/>
<polyline points="381.5,291.5 415.5,291.5 419.5,291.5 419.5,292.5 423.5,292.5 423.5,294.5 427.5,294.5 427.5,297.5 430.5,297.5 430.5,299.5 433.5,299.5 433.5,300.5 437.5,300.5 440.5,300.5 440.5,301.5 443.5,301.5 443.5,303.5 446.5,303.5 446.5,305.5 449.5,305.5 449.5,307.5 451.5,307.5 451.5,308.5 457.5,308.5 457.5,309.5 459.5,309.5 459.5,310.5 462.5,310.5 462.5,312.5 469.5,312.5 469.5,313.5 471.5,313.5 471.5,314.5 487.5,314.5 487.5,315.5 488.5,315.5 488.5,322.5 495.5,322.5" fill="none" stroke="#222" stroke-width="1"/>
<text x="383.2" y="388.5" font-size="6.4" font-weight="bold" fill="#111">MRD</text>
<text x="434" y="388.5" font-size="6.4" font-weight="bold" fill="#111">n</text>
<text x="458.8" y="388.5" font-size="6.4" font-weight="bold" fill="#111">3-year DFS (95% CI)</text>
<path d="M367 397.5H377" stroke="#222" stroke-width="1"/>
<text x="383.5" y="399.7" font-size="6.4" fill="#2a2a2a">negative/&lt;10<tspan font-size="4.4" dx="0.5" dy="-2.7">-4</tspan></text>
<text x="434" y="399.7" font-size="6.4" fill="#2a2a2a">113</text>
<text x="458.8" y="399.7" font-size="6.4" fill="#2a2a2a">67.9 (56.9-80.6)</text>
<path d="M367 406.5H377" stroke="#555" stroke-width="0.8" stroke-dasharray="1.3 0.8"/>
<text x="383.5" y="409.1" font-size="6.4" fill="#2a2a2a">&gt;10<tspan font-size="4.4" dx="0.5" dy="-2.7">-4</tspan></text>
<text x="434" y="409.1" font-size="6.4" fill="#2a2a2a">11</text>
<text x="458.8" y="409.1" font-size="6.4" fill="#2a2a2a">14.6 (0.0-40.0)</text>
</g>
</svg>
</body></html>
